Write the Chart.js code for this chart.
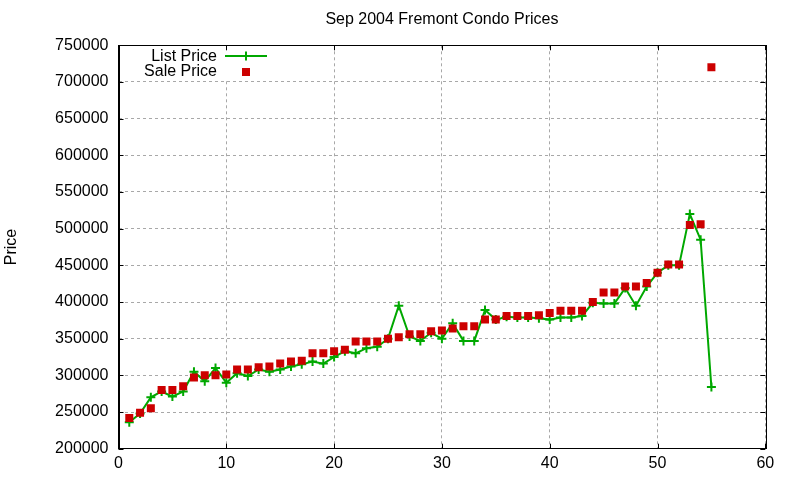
<!DOCTYPE html>
<html>
<head>
<meta charset="utf-8">
<title>Sep 2004 Fremont Condo Prices</title>
<script src="https://cdn.jsdelivr.net/npm/chart.js@4.4.1/dist/chart.umd.min.js"></script>
<style>
  html, body { margin: 0; padding: 0; background: #fff; }
</style>
</head>
<body>
<canvas id="condoChart" width="800" height="480"></canvas>
<script>
// listing number, list and sale price
const listings = [1, 2, 3, 4, 5, 6, 7, 8, 9, 10,
  11, 12, 13, 14, 15, 16, 17, 18, 19, 20,
  21, 22, 23, 24, 25, 26, 27, 28, 29, 30,
  31, 32, 33, 34, 35, 36, 37, 38, 39, 40,
  41, 42, 43, 44, 45, 46, 47, 48, 49, 50,
  51, 52, 53, 54, 55];

const listPrices = [236000, 248000, 270000, 278000, 271000, 278000, 305000, 292000, 310000, 290000,
  303000, 299000, 308000, 305000, 308000, 312000, 315000, 319000, 316000, 325000,
  333000, 330000, 337000, 339000, 350000, 395000, 353000, 347000, 358000, 350000,
  371000, 347000, 347000, 389000, 376000, 380000, 379000, 379000, 378000, 376000,
  379000, 379000, 381000, 399000, 398000, 398000, 419000, 395000, 421000, 440000,
  450000, 450000, 520000, 485000, 284000];

const salePrices = [242000, 249000, 255000, 280000, 280000, 285000, 297000, 300000, 300000, 301000,
  308000, 308000, 311000, 312000, 316000, 319000, 320000, 330000, 330000, 333000,
  335000, 346000, 346000, 346000, 350000, 352000, 356000, 356000, 360000, 361000,
  364000, 367000, 367000, 376000, 376000, 381000, 381000, 381000, 382000, 385000,
  388000, 388000, 388000, 400000, 413000, 413000, 421000, 421000, 426000, 440000,
  451000, 451000, 505000, 506000, 720000];

const xTicks = [0, 10, 20, 30, 40, 50, 60];
const yTicks = [200000, 250000, 300000, 350000, 400000, 450000, 500000,
  550000, 600000, 650000, 700000, 750000];

const GREEN = '#00a800';
const RED = '#cc0000';
const FONT = { family: '"Liberation Sans", Arial, sans-serif', size: 16, weight: 'normal' };

// gnuplot look: white key box, solid frame, inward ticks on all sides, key entries
const gnuplotFrame = {
  id: 'gnuplotFrame',
  beforeDatasetsDraw(chart) {
    const { ctx, chartArea: a } = chart;
    ctx.save();
    ctx.fillStyle = '#fff';
    ctx.fillRect(a.left + 1, a.top + 1, 160, 34);
    ctx.restore();
  },
  afterDraw(chart) {
    const { ctx, chartArea: a, scales } = chart;
    ctx.save();
    ctx.strokeStyle = '#000';
    ctx.lineWidth = 1;
    ctx.setLineDash([]);
    ctx.strokeRect(Math.round(a.left) + 0.5, Math.round(a.top) + 0.5,
      Math.round(a.right - a.left), Math.round(a.bottom - a.top));

    const tick = 5;
    ctx.beginPath();
    xTicks.forEach(v => {
      const px = Math.round(scales.x.getPixelForValue(v)) + 0.5;
      ctx.moveTo(px, a.bottom); ctx.lineTo(px, a.bottom - tick);
      ctx.moveTo(px, a.top); ctx.lineTo(px, a.top + tick);
    });
    yTicks.forEach(v => {
      const py = Math.round(scales.y.getPixelForValue(v)) + 0.5;
      ctx.moveTo(a.left, py); ctx.lineTo(a.left + tick, py);
      ctx.moveTo(a.right, py); ctx.lineTo(a.right - tick, py);
    });
    ctx.stroke();

    // key
    const textX = a.left + 98.5, sampleX = a.left + 127.5;
    ctx.font = FONT.size + 'px ' + FONT.family;
    ctx.fillStyle = '#000';
    ctx.textAlign = 'right';
    ctx.textBaseline = 'middle';
    ctx.fillText(chart.data.datasets[0].label, textX, 57);
    ctx.fillText(chart.data.datasets[1].label, textX, 72);

    ctx.strokeStyle = GREEN;
    ctx.lineWidth = 2;
    ctx.beginPath();
    ctx.moveTo(sampleX - 21, 56); ctx.lineTo(sampleX + 21, 56);
    ctx.moveTo(sampleX, 51.5); ctx.lineTo(sampleX, 60.5);
    ctx.stroke();

    ctx.fillStyle = RED;
    ctx.fillRect(sampleX - 4, 68, 8, 8);
    ctx.restore();
  }
};

new Chart(document.getElementById('condoChart'), {
  type: 'line',
  data: {
    datasets: [
      {
        label: 'List Price',
        data: listings.map((n, i) => ({ x: n, y: listPrices[i] })),
        borderColor: GREEN,
        backgroundColor: GREEN,
        borderWidth: 2,
        pointStyle: 'cross',
        pointRadius: 4.5,
        pointBorderWidth: 2,
        tension: 0,
        order: 2
      },
      {
        label: 'Sale Price',
        data: listings.map((n, i) => ({ x: n, y: salePrices[i] })),
        showLine: false,
        backgroundColor: RED,
        borderColor: RED,
        pointStyle: 'rect',
        pointRadius: 5.66,
        pointBorderWidth: 0,
        order: 1
      }
    ]
  },
  options: {
    responsive: false,
    animation: false,
    devicePixelRatio: 1,
    layout: { padding: { left: 0, right: 34.7, top: 0, bottom: 0 } },
    plugins: {
      legend: { display: false },
      tooltip: { enabled: false },
      title: {
        display: true,
        fullSize: false,
        text: 'Sep 2004 Fremont Condo Prices',
        color: '#000',
        font: FONT,
        padding: { top: 10.4, bottom: 15.7 }
      }
    },
    scales: {
      x: {
        type: 'linear',
        min: 0,
        max: 60,
        afterBuildTicks: s => { s.ticks = xTicks.map(v => ({ value: v })); },
        afterFit: s => { s.height = 31.3; },
        grid: { color: '#a8a8a8', lineWidth: 1, drawTicks: false, tickLength: 0 },
        border: { display: true, color: '#000', width: 1, dash: [3, 3] },
        ticks: { color: '#000', font: FONT, padding: 5, maxRotation: 0, autoSkip: false }
      },
      y: {
        type: 'linear',
        min: 200000,
        max: 750000,
        afterBuildTicks: s => { s.ticks = yTicks.map(v => ({ value: v })); },
        afterFit: s => { s.width = 118.5; },
        grid: { color: '#a8a8a8', lineWidth: 1, drawTicks: false, tickLength: 0 },
        border: { display: true, color: '#000', width: 1, dash: [3, 3] },
        ticks: { color: '#000', font: FONT, padding: 10, autoSkip: false, callback: v => String(v) },
        title: { display: true, text: 'Price', color: '#000', font: FONT, padding: { top: 2.4, bottom: 0 } }
      }
    }
  },
  plugins: [gnuplotFrame]
});
</script>
</body>
</html>
